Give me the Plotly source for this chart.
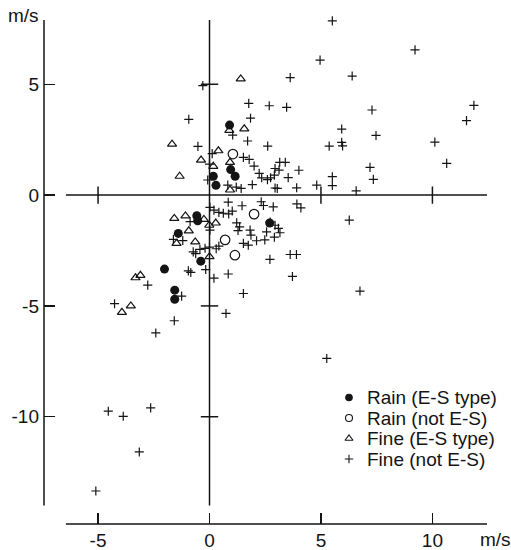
import plotly.graph_objects as go

# ---------------- data (m/s) ----------------
rain_es_x = [0.90, 0.95, 1.15, 0.17, 0.29, -0.57, -0.53, -1.40, -0.39, -2.02, -1.56, -1.56, 2.70]
rain_es_y = [3.16, 1.15, 0.85, 0.85, 0.44, -0.93, -1.16, -1.73, -2.98, -3.34, -4.29, -4.70, -1.26]

rain_not_x = [1.05, 2.00, 0.70, 1.14]
rain_not_y = [1.85, -0.86, -2.02, -2.71]

fine_es_x = [1.40, 1.56, 0.89, -1.68, 0.40, -0.38, 0.92, 0.17, -1.34, 0.92,
             -1.58, -1.08, -0.25, -0.01, 0.28, -0.93, -1.48, -0.64, 0.00,
             -3.32, -3.10, -3.53, -3.93]
fine_es_y = [5.24, 2.99, 2.92, 2.30, 2.00, 1.58, 1.48, 1.30, 0.85, 0.23,
             -1.05, -0.94, -1.10, -1.36, -1.26, -1.61, -2.18, -2.11, -2.78,
             -3.73, -3.62, -5.00, -5.29]

fine_not_x = [-0.30, 1.76, 2.68, -0.93, 1.84, 1.04, 1.71, -0.52, 0.12, 2.61,
              1.52, 1.78, 2.00, -0.08, 0.00, 0.82, 1.20, 1.42, 1.92, 2.23,
              2.34, 2.60, 2.74, 2.91, 2.94, 3.12, 3.15, 3.40, 3.53, 4.01,
              3.91, 2.94, 3.04, 4.81,
              5.51, 9.22, 4.96, 3.62, 6.40, 3.46, 7.29, 11.86, 11.53, 5.93,
              7.47, 5.37, 5.93, 5.97, 10.11, 10.64, 7.20, 7.35, 5.51, 5.51, 6.58,
              0.02, 0.20, 0.42, 0.62, 0.86, 1.02, 0.84, 1.46, 1.22, 1.35,
              1.28, 1.82, 1.86, 2.32, 2.42, 2.86, 3.92, 4.10, 6.27, 2.72,
              2.94, 3.09, 3.16, 2.56, 2.91, 2.11, 2.48, 1.52, 1.74, 2.71,
              3.62, 3.90, 0.84, 3.72, 0.20, 6.75, 1.52, 0.74, 5.26,
              0.02, -0.43, -0.20, 0.00, 0.30, 0.42, -0.73, -0.62, -0.95, -0.84,
              -0.17, -0.87, -1.62, -1.20, -2.77, -1.25, -4.26, -1.58, -2.41,
              -4.54, -3.87, -2.64, -3.15, -5.10]
fine_not_y = [4.94, 4.14, 4.03, 3.42, 3.47, 2.71, 2.44, 2.20, 1.87, 2.21,
              1.70, 1.61, 1.31, 0.68, 1.40, 0.45, 0.36, 0.30, 0.47, 0.98,
              0.78, 0.70, 0.78, 0.90, 1.20, 1.13, 1.48, 1.48, 0.79, 1.12,
              0.33, 0.32, 0.30, 0.45,
              7.86, 6.55, 6.09, 5.30, 5.37, 3.96, 3.84, 4.05, 3.36, 2.98,
              2.69, 2.21, 2.38, 2.22, 2.39, 1.43, 1.25, 0.71, 0.83, 0.43, 0.19,
              -0.55, -0.68, -0.78, -0.82, -0.85, -0.72, -0.32, -0.48, -1.25, -1.43,
              -1.60, -1.58, -1.81, -0.30, -0.47, -0.53, -0.40, -0.58, -1.13, -1.22,
              -1.36, -1.50, -1.70, -1.66, -1.90, -2.06, -2.02, -2.18, -2.26, -2.90,
              -2.68, -2.68, -3.56, -3.67, -3.75, -4.33, -4.44, -5.34, -7.37,
              -1.58, -2.45, -2.40, -2.35, -2.42, -2.30, -2.56, -2.64, -3.42, -3.49,
              -3.36, -1.20, -2.00, -2.05, -4.06, -4.56, -4.90, -5.67, -6.22,
              -9.75, -9.98, -9.60, -11.59, -13.35]

x_ticks = [-5, 0, 5, 10]
x_tick_labels = ["-5", "0", "5", "10"]
y_ticks = [5, 0, -5, -10]
y_tick_labels = ["5", "0", "-5", "-10"]
cross_x_ticks = [-5, 5, 10]
cross_y_ticks = [5, -5, -10]

legend_labels = ["Rain (E-S type)", "Rain (not E-S)", "Fine (E-S type)", "Fine (not E-S)"]
unit_label = "m/s"

# ---------------- styling / layout ----------------
FONT = "Liberation Sans, Arial, Helvetica, sans-serif"
INK = "#141414"
W, H = 511, 550
# plot area in page pixels
PL, PR, PT, PB = 44, 487, 20, 524
ML, MT, MR, MB = PL, PT, W - PR, H - PB
PW, PH = PR - PL, PB - PT
X_RANGE = [-7.425, 12.449]
Y_RANGE = [-14.84, 7.90]
X_LO, X_HI = -6.44, 12.45     # extent of drawn lines
Y_LO, Y_HI = -14.0, 7.90
TICK_HALF = 0.39
FS = 19


def px_to_paper(px, py):
    return (px - PL) / PW, (PB - py) / PH


fig = go.Figure()

fig.add_trace(go.Scatter(x=fine_not_x, y=fine_not_y, mode="markers", cliponaxis=False,
                         marker=dict(symbol="cross-thin", size=6.5, color=INK,
                                     line=dict(width=1.2, color=INK)),
                         showlegend=False, name=legend_labels[3]))
fig.add_trace(go.Scatter(x=fine_es_x, y=fine_es_y, mode="markers", cliponaxis=False,
                         marker=dict(symbol="triangle-up-open", size=8, color=INK,
                                     line=dict(width=1.2, color=INK)),
                         showlegend=False, name=legend_labels[2]))
fig.add_trace(go.Scatter(x=rain_not_x, y=rain_not_y, mode="markers", cliponaxis=False,
                         marker=dict(symbol="circle-open", size=9.5, color=INK,
                                     line=dict(width=1.2, color=INK)),
                         showlegend=False, name=legend_labels[1]))
fig.add_trace(go.Scatter(x=rain_es_x, y=rain_es_y, mode="markers", cliponaxis=False,
                         marker=dict(symbol="circle", size=9, color=INK),
                         showlegend=False, name=legend_labels[0]))

# legend keys (overlay axes measured in page pixels)
LEG_MX, LEG_TX = 349, 365
LEG_ROWS = [397.5, 418, 438.5, 459]
leg_syms = ["circle", "circle-open", "triangle-up-open", "cross-thin"]
leg_sizes = [6.5, 7, 7, 6]
for lab, sym, sz, ry in zip(legend_labels, leg_syms, leg_sizes, LEG_ROWS):
    fig.add_trace(go.Scatter(x=[LEG_MX], y=[ry], xaxis="x2", yaxis="y2", mode="markers",
                             marker=dict(symbol=sym, size=sz, color=INK,
                                         line=dict(width=1.1, color=INK)),
                             showlegend=False, hoverinfo="skip"))
    fig.add_annotation(x=LEG_TX, y=ry, xref="x2", yref="y2", text=lab, showarrow=False,
                       xanchor="left", yanchor="middle",
                       font=dict(family=FONT, size=FS, color=INK))

line_style = dict(color=INK, width=1.5)
shapes = [
    dict(type="line", xref="paper", yref="y", x0=0, x1=0, y0=Y_LO, y1=Y_HI, line=line_style),
    dict(type="line", xref="x", yref="paper", x0=X_LO, x1=X_HI, y0=0, y1=0, line=line_style),
    dict(type="line", xref="x", yref="y", x0=0, x1=0, y0=Y_LO, y1=Y_HI, line=line_style),
    dict(type="line", xref="x", yref="y", x0=X_LO, x1=X_HI, y0=0, y1=0, line=line_style),
]
for t in cross_x_ticks:
    shapes.append(dict(type="line", xref="x", yref="y", x0=t, x1=t,
                       y0=-TICK_HALF, y1=TICK_HALF, line=line_style))
for t in cross_y_ticks:
    shapes.append(dict(type="line", xref="x", yref="y", y0=t, y1=t,
                       x0=-TICK_HALF, x1=TICK_HALF, line=line_style))

ax0, ay0 = px_to_paper(23, 15)
fig.add_annotation(x=ax0, y=ay0, xref="paper", yref="paper", text=unit_label, showarrow=False,
                   xanchor="center", yanchor="middle", font=dict(family=FONT, size=FS, color=INK))
ax1, ay1 = px_to_paper(495, 539.5)
fig.add_annotation(x=ax1, y=ay1, xref="paper", yref="paper", text=unit_label, showarrow=False,
                   xanchor="center", yanchor="middle", font=dict(family=FONT, size=FS, color=INK))

fig.update_layout(
    width=W, height=H,
    margin=dict(l=ML, r=MR, t=MT, b=MB, pad=0, autoexpand=False),
    paper_bgcolor="white", plot_bgcolor="white",
    font=dict(family=FONT, size=FS, color=INK),
    shapes=shapes,
    showlegend=False,
    hovermode=False,
    xaxis=dict(range=X_RANGE, showgrid=False, zeroline=False, showline=False,
               tickmode="array", tickvals=x_ticks, ticktext=x_tick_labels,
               ticks="inside", ticklen=11, tickwidth=1.5, tickcolor=INK, automargin=False,
               ticklabelstandoff=3,
               tickfont=dict(family=FONT, size=FS, color=INK), fixedrange=True),
    yaxis=dict(range=Y_RANGE, showgrid=False, zeroline=False, showline=False,
               tickmode="array", tickvals=y_ticks, ticktext=y_tick_labels,
               ticks="inside", ticklen=11, tickwidth=1.5, tickcolor=INK, automargin=False,
               ticklabelstandoff=4,
               tickfont=dict(family=FONT, size=FS, color=INK), fixedrange=True),
    xaxis2=dict(range=[PL, PR], overlaying="x", anchor="y2", visible=False,
                fixedrange=True, automargin=False),
    yaxis2=dict(range=[PB, PT], overlaying="y", anchor="x2", visible=False,
                fixedrange=True, automargin=False),
)

# remove the browser's default 8px body margin so the figure fills the window exactly
fig.write_html("out.html",
               config={"displayModeBar": False, "staticPlot": True},
               post_script="document.body.style.margin='0px';document.body.style.overflow='hidden';")
